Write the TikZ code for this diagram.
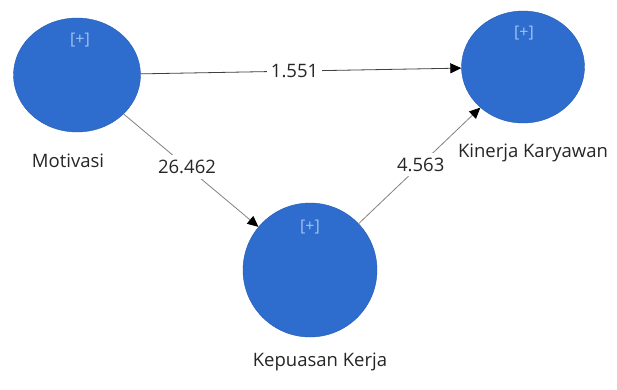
\documentclass[tikz,border=0pt]{standalone}
\usepackage{fontspec}
\setmainfont{Open Sans}
\usetikzlibrary{shapes.geometric,arrows.meta}
\definecolor{latent}{RGB}{46,108,206}
\definecolor{plusmark}{RGB}{160,196,240}
\definecolor{pathline}{RGB}{130,130,130}
\begin{document}
\begin{tikzpicture}[x=1pt,y=-1pt,
  construct/.style={ellipse,fill=latent,draw=latent!85!black,line width=0.4pt,inner sep=0pt},
  plus/.style={text=plusmark,font=\fontsize{16}{18}\selectfont,inner sep=0pt},
  cname/.style={font=\fontsize{18.5}{22}\selectfont,inner sep=0pt,text=black!85},
  path/.style={draw=pathline,line width=0.8pt,-{Triangle[length=11pt,width=10pt,fill=black,color=black]}},
  coef/.style={fill=white,inner xsep=4pt,inner ysep=5pt,font=\fontsize{18.5}{22}\selectfont,text=black!85}]
\useasboundingbox (0,0) rectangle (617,389);
\fill[white] (0,0) rectangle (617,389);

% latent variables
\node[construct,minimum width=127pt,minimum height=114pt] (mot) at (77,75) {};
\node[construct,minimum width=123pt,minimum height=112pt] (kin) at (523,67) {};
\node[construct,minimum width=134pt,minimum height=134pt] (kep) at (310,270) {};

% expand markers
\node[plus] (motp) at (80,40) {[+]};
\node[plus] (kinp) at (524,33) {[+]};
\node[plus] (kepp) at (310,227) {[+]};

% construct names
\node[cname] (motl) at (68,161) {Motivasi};
\node[cname] (kinl) at (533,153) {Kinerja Karyawan};
\node[cname] (kepl) at (320,362) {Kepuasan Kerja};

% structural paths with t-values
\draw[path,draw=black!75] (mot) -- node[coef,pos=0.48] (c1) {1.551} (kin);
\draw[path] (mot) -- node[coef,pos=0.47] (c2) {26.462} (kep);
\draw[path] (kep) -- node[coef,pos=0.51] (c3) {4.563} (kin);
\end{tikzpicture}
\end{document}
